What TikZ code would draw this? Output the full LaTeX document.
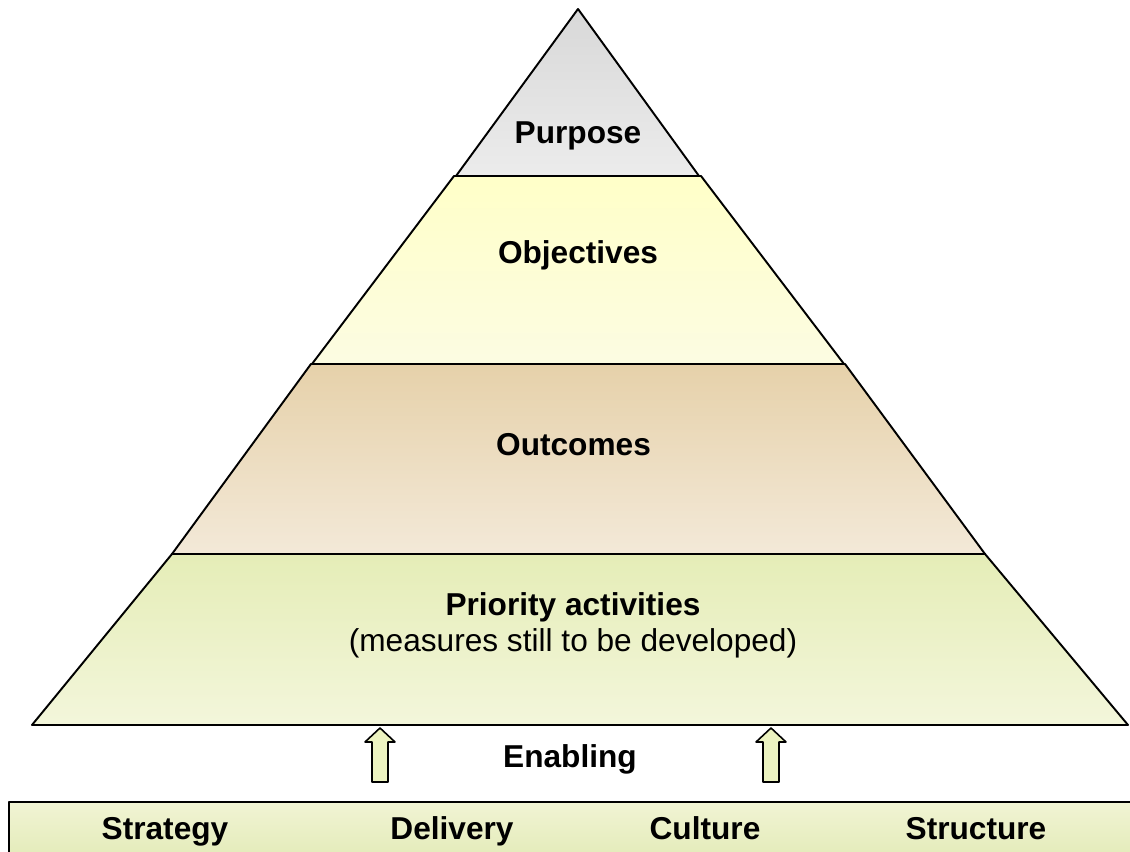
\documentclass[tikz,border=0pt]{standalone}
\usepackage{fontspec}
\setmainfont{Liberation Sans}
\usepackage{xcolor}
\definecolor{purposeTop}{RGB}{216,216,216}
\definecolor{purposeBot}{RGB}{236,236,236}
\definecolor{objTop}{RGB}{255,255,200}
\definecolor{objBot}{RGB}{252,252,226}
\definecolor{outTop}{RGB}{230,209,170}
\definecolor{outBot}{RGB}{243,233,216}
\definecolor{prioTop}{RGB}{229,237,183}
\definecolor{prioBot}{RGB}{243,246,219}
\definecolor{barTop}{RGB}{241,244,212}
\definecolor{barBot}{RGB}{224,233,178}
\definecolor{liftFill}{RGB}{236,243,192}

\begin{document}
\begin{tikzpicture}[line join=round,
   tier/.style={draw=black,line width=1.1pt},
   lbl/.style={font=\fontsize{18}{20.5}\selectfont\bfseries,align=center},
   sub/.style={font=\fontsize{18}{20.5}\selectfont,align=center},
   lift/.style={draw=black,line width=0.9pt,fill=liftFill}]
  \useasboundingbox (0,0) rectangle (22.6,17.04);

  % ---- pyramid tiers (bottom to top) ----
  \path[tier,top color=prioTop,bottom color=prioBot]
    (0.64,2.54) -- (22.56,2.54) -- (19.70,5.96) -- (3.44,5.96) -- cycle;
  \path[tier,top color=outTop,bottom color=outBot]
    (3.44,5.96) -- (19.70,5.96) -- (16.90,9.76) -- (6.22,9.76) -- cycle;
  \path[tier,top color=objTop,bottom color=objBot]
    (6.24,9.76) -- (16.88,9.76) -- (14.02,13.52) -- (9.08,13.52) -- cycle;
  \path[tier,top color=purposeTop,bottom color=purposeBot]
    (9.12,13.52) -- (13.98,13.52) -- (11.56,16.86) -- cycle;

  \node[lbl] (purpose)    at (11.56,14.32) {Purpose};
  \node[lbl] (objectives) at (11.56,11.94) {Objectives};
  \node[lbl] (outcomes)   at (11.47,8.14)  {Outcomes};
  \node[lbl] (priority)   at (11.46,4.90)  {Priority activities};
  \node[sub] (measures)   at (11.46,4.18)  {(measures still to be developed)};

  % ---- enablers bar ----
  \path[tier,top color=barTop,bottom color=barBot] (0.18,-0.4) rectangle (23.0,1.00);
  \foreach \n/\x/\t in {strategy/3.30/Strategy,delivery/9.04/Delivery,
                        culture/14.10/Culture,structure/19.52/Structure}
    \node[lbl,anchor=base] (\n) at (\x,0.24) {\t};

  % ---- enabling arrows ----
  \node[lbl] (enabling) at (11.40,1.86) {Enabling};
  \foreach \x in {7.60,15.42}{
    \path[lift] ({\x-0.16},1.40) -- ({\x-0.16},2.20) -- ({\x-0.30},2.20) -- (\x,2.48)
      -- ({\x+0.30},2.20) -- ({\x+0.16},2.20) -- ({\x+0.16},1.40) -- cycle;}
\end{tikzpicture}
\end{document}
